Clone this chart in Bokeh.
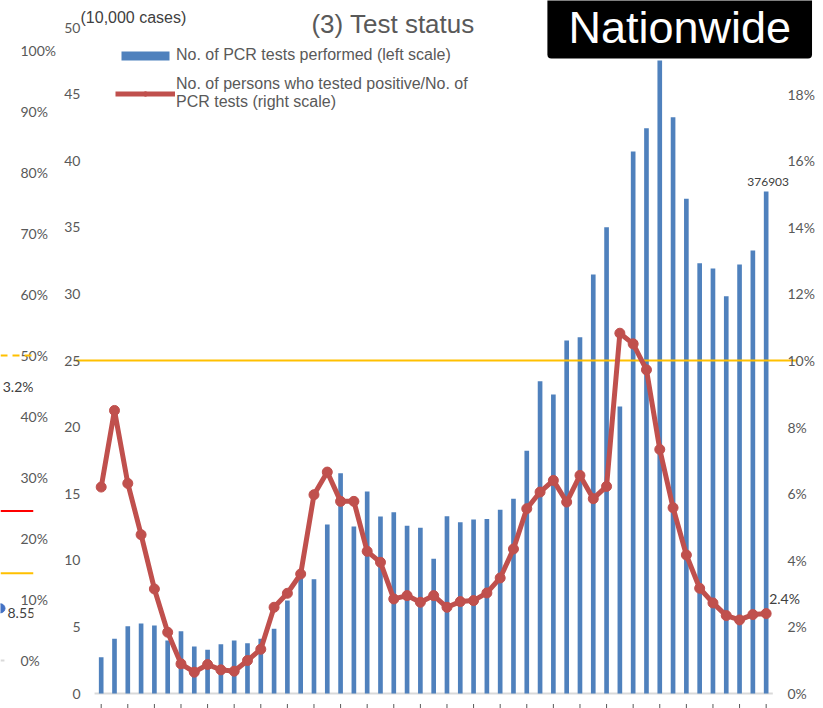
import math
from bokeh.plotting import figure
from bokeh.models import (Range1d, LinearAxis, FixedTicker, NumeralTickFormatter,
                          Span, Label, Legend, LegendItem, ColumnDataSource)
from bokeh.layouts import row
from bokeh.embed import file_html
from bokeh.resources import INLINE

# ---------------- data ----------------
# No. of PCR tests performed (unit: 10,000 cases), one bar per period
tests_10k = [2.73, 4.11, 5.05, 5.26, 5.11, 3.98, 4.68, 3.53, 3.28, 3.70,
             3.98, 3.78, 4.11, 4.86, 6.98, 8.73, 8.58, 12.69, 16.54, 12.54,
             15.17, 13.29, 13.61, 12.59, 12.44, 10.11, 13.31, 12.86, 13.06, 13.11,
             13.79, 14.62, 18.22, 23.45, 22.45, 26.50, 26.75, 31.46, 35.00, 21.55,
             40.69, 42.44, 47.52, 43.27, 37.14, 32.30, 31.90, 29.83, 32.20, 33.26,
             37.6903]
# Positivity rate (positives / PCR tests), percent
positivity_pct = [6.20, 8.50, 6.31, 4.77, 3.14, 1.84, 0.89, 0.64, 0.87, 0.71,
                  0.67, 0.99, 1.33, 2.59, 3.01, 3.59, 5.97, 6.65, 5.77, 5.77,
                  4.27, 3.94, 2.84, 2.94, 2.74, 2.94, 2.59, 2.76, 2.79, 3.02,
                  3.47, 4.34, 5.55, 6.05, 6.40, 5.75, 6.55, 5.85, 6.22, 10.82,
                  10.50, 9.72, 7.33, 5.58, 4.16, 3.16, 2.72, 2.34, 2.21, 2.37,
                  2.40]
left_ticks = [0, 5, 10, 15, 20, 25, 30, 35, 40, 45, 50]
right_ticks = [0.0, 0.02, 0.04, 0.06, 0.08, 0.10, 0.12, 0.14, 0.16, 0.18]
threshold_pct = 10.0          # 10 % positivity line (= 25 on left scale)

# fragment of neighbouring chart (left edge)
frag_ticks = [0.0, 0.1, 0.2, 0.3, 0.4, 0.5, 0.6, 0.7, 0.8, 0.9, 1.0]
frag_dashed_level = 0.50
frag_red_level = 0.245
frag_orange_level = 0.143
frag_dot_value = 8.55
frag_label_value = 0.449
frag_label_text = "3.2%"

TICK_COLOR = "#595959"
TEXT_COLOR = "#404040"
BLUE = "#4F81BD"
RED = "#C0504D"
GOLD = "#FFC000"


def style_axis(a, standoff):
    a.major_label_standoff = standoff
    a.major_tick_out = 0
    a.major_tick_in = 0
    a.minor_tick_out = 0
    a.minor_tick_in = 0
    a.axis_line_color = None
    a.major_label_text_font = "Lato"
    a.major_label_text_font_size = "14px"
    a.major_label_text_color = TICK_COLOR


# ---------------- fragment figure ----------------
fa = figure(width=60, height=708, x_range=Range1d(0, 1),
            y_range=Range1d(-0.0787, 1.082),
            output_backend="svg", toolbar_location=None,
            x_axis_location=None, y_axis_location="right",
            min_border_left=0, min_border_right=27,
            min_border_top=0, min_border_bottom=0)
fa.outline_line_color = None
fa.grid.visible = False
ax = fa.yaxis[0]
ax.ticker = FixedTicker(ticks=frag_ticks)
ax.formatter = NumeralTickFormatter(format="0%")
style_axis(ax, -13)

fa.add_layout(Span(location=frag_dashed_level, dimension="width", line_color=GOLD,
                   line_width=2, line_dash="7 5"))
fa.add_layout(Span(location=frag_red_level, dimension="width", line_color="#FF0000",
                   line_width=2))
fa.add_layout(Span(location=frag_orange_level, dimension="width", line_color=GOLD,
                   line_width=2))
fa.segment(x0=[0], y0=[0], x1=[0.12], y1=[0], line_color="#D9D9D9", line_width=2)
fa.scatter(x=[0], y=[frag_dot_value / 100], size=9, fill_color="#4472C4",
           line_color="#4472C4")
fa.add_layout(Label(x=1, y=frag_label_value, text=frag_label_text, text_align="right",
                    text_baseline="middle", text_font="Lato", text_font_size="14px",
                    text_color=TEXT_COLOR))
fa.add_layout(Label(x=0, y=frag_dot_value / 100, text=f"{frag_dot_value:.2f}",
                    text_align="left", text_baseline="top", x_offset=7,
                    text_font="Lato", text_font_size="14px", text_color=TEXT_COLOR))

# ---------------- main figure ----------------
n = len(tests_10k)
xs = list(range(n))
src = ColumnDataSource(dict(x=xs, tests=tests_10k,
                            pos=[v / 100 for v in positivity_pct]))

Y_TOP = 52.03
Y_BOT = -1.126
X_START = -1.932
X_END = 53.71
LINE_END = 52.353          # where the 10 % reference line stops
fb = figure(width=763, height=708, x_range=Range1d(X_START, X_END),
            y_range=Range1d(Y_BOT, Y_TOP),
            output_backend="svg", toolbar_location=None,
            x_axis_location=None,
            min_border_left=15, min_border_right=8,
            min_border_top=0, min_border_bottom=0)
fb.outline_line_color = None
fb.grid.visible = False
fb.extra_y_ranges = {"right": Range1d(Y_BOT / 250, Y_TOP / 250)}

ly = fb.yaxis[0]
ly.ticker = FixedTicker(ticks=left_ticks)
style_axis(ly, -5)

ry = LinearAxis(y_range_name="right", ticker=FixedTicker(ticks=right_ticks),
                formatter=NumeralTickFormatter(format="0%"))
style_axis(ry, -28)
fb.add_layout(ry, "right")

# baseline of the category axis
fb.segment(x0=[-0.5], y0=[0], x1=[n - 0.5], y1=[0], line_color="#D9D9D9", line_width=2)
# small category tick marks at the bottom edge (every second period)
fb.scatter(x=xs[::2], y=[Y_BOT] * len(xs[::2]), marker="dash", angle=math.pi / 2,
           size=9, line_color=TICK_COLOR, line_width=1)

bars = fb.vbar(x="x", top="tests", width=0.35, source=src, fill_color=BLUE,
               line_color=None)

# 10 % positivity reference line
fb.segment(x0=[X_START], y0=[threshold_pct * 2.5], x1=[LINE_END],
           y1=[threshold_pct * 2.5], line_color=GOLD, line_width=2)

line = fb.line(x="x", y="pos", source=src, y_range_name="right", line_color=RED,
               line_width=5)
dots = fb.scatter(x="x", y="pos", source=src, y_range_name="right", size=10,
                  fill_color=RED, line_color=RED)

# value labels
fb.add_layout(Label(x=n - 1, y=tests_10k[-1], text=f"{round(tests_10k[-1] * 10000)}",
                    text_align="center", text_baseline="bottom", x_offset=2, y_offset=5,
                    text_font="Lato", text_font_size="12px", text_color=TEXT_COLOR))
fb.add_layout(Label(x=n - 1, y=positivity_pct[-1] / 100, y_range_name="right",
                    text=f"{positivity_pct[-1]:.1f}%", text_align="left",
                    text_baseline="middle", x_offset=3, y_offset=15,
                    text_font="Lato", text_font_size="14px", text_color=TEXT_COLOR))

# titles
fb.add_layout(Label(x=15.81, y=50.3, text="(3) Test status", text_align="left",
                    text_baseline="middle", text_font="Liberation Sans",
                    text_font_size="26px", text_color=TICK_COLOR))
fb.add_layout(Label(x=-1.556, y=50.75, text="(10,000 cases)", text_align="left",
                    text_baseline="middle", text_font="Liberation Sans",
                    text_font_size="16px", text_color=TEXT_COLOR))
fb.add_layout(Label(x=43.5, y=50.04, text="Nationwide", text_align="center",
                    text_baseline="alphabetic", text_font="Liberation Sans",
                    text_font_size="45px", text_color="white",
                    background_fill_color="black", padding=(21, 6),
                    border_radius=4))

legend = Legend(items=[
    LegendItem(label="No. of PCR tests performed (left scale)", renderers=[bars]),
    LegendItem(label="No. of persons who tested positive/No. of\nPCR tests (right scale)",
               renderers=[line, dots]),
], location=(40, 597))
legend.glyph_width = 60
legend.glyph_height = 11
legend.label_standoff = 1
legend.padding = 0
legend.margin = 0
legend.spacing = 11
legend.border_line_color = None
legend.background_fill_alpha = 0
legend.label_text_font = "Liberation Sans"
legend.label_text_font_size = "16px"
legend.label_text_color = TICK_COLOR
legend.label_text_line_height = 1.45
fb.add_layout(legend)

layout = row(fa, fb, spacing=0)
open("out.html", "w").write(file_html(layout, INLINE))
